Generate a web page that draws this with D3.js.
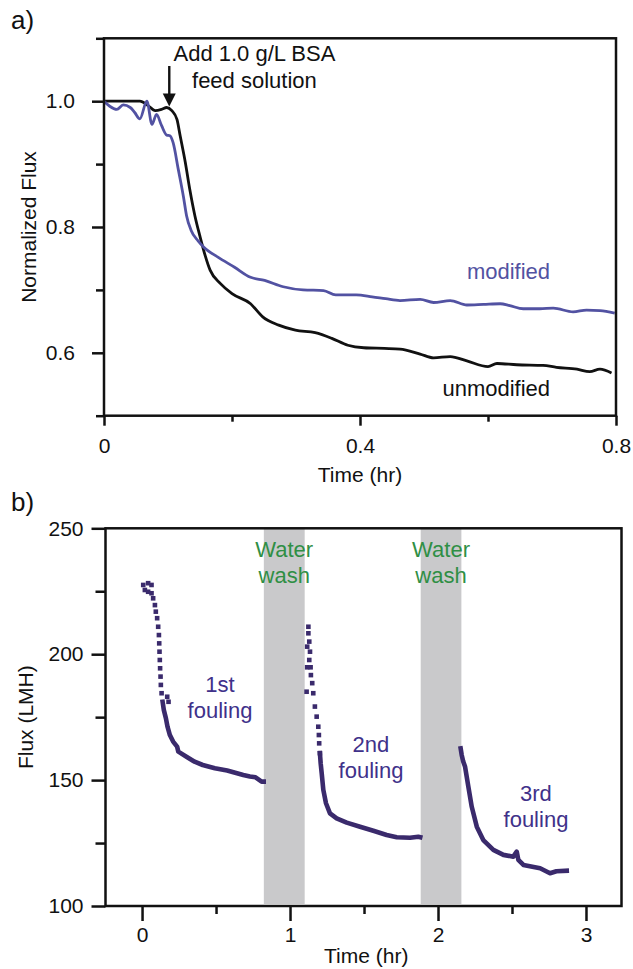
<!DOCTYPE html>
<html>
<head>
<meta charset="utf-8">
<script src="https://cdn.jsdelivr.net/npm/d3@7"></script>
<style>
  body { margin: 0; background: #fff; }
  svg text { font-family: "Liberation Sans", Arial, sans-serif; }
</style>
</head>
<body>
<script>
// panel a : normalized flux vs time
const unmodified = [[0,1.0],[0.03,1.0],[0.056,1.0],[0.069,0.993],[0.080,0.985],[0.090,0.987],[0.098,0.990],[0.106,0.985],[0.114,0.971],[0.119,0.945],[0.127,0.903],[0.134,0.860],[0.142,0.818],[0.150,0.785],[0.158,0.755],[0.166,0.731],[0.182,0.710],[0.200,0.694],[0.229,0.678],[0.248,0.657],[0.273,0.644],[0.299,0.636],[0.330,0.632],[0.356,0.623],[0.381,0.612],[0.406,0.608],[0.438,0.607],[0.4625,0.606],[0.494,0.598],[0.515,0.592],[0.541,0.594],[0.567,0.587],[0.600,0.578],[0.614,0.583],[0.645,0.581],[0.686,0.580],[0.707,0.577],[0.739,0.574],[0.759,0.570],[0.775,0.574],[0.793,0.568]];
const modified = [[0,1.0],[0.009,0.992],[0.020,0.987],[0.030,0.994],[0.041,0.990],[0.048,0.982],[0.056,0.972],[0.067,1.0],[0.075,0.963],[0.082,0.979],[0.090,0.961],[0.098,0.946],[0.103,0.945],[0.108,0.934],[0.116,0.892],[0.124,0.849],[0.129,0.818],[0.136,0.795],[0.147,0.778],[0.156,0.768],[0.178,0.752],[0.204,0.736],[0.229,0.720],[0.251,0.715],[0.280,0.705],[0.311,0.700],[0.343,0.699],[0.362,0.692],[0.394,0.692],[0.419,0.689],[0.44,0.686],[0.4625,0.683],[0.494,0.685],[0.515,0.680],[0.541,0.683],[0.567,0.676],[0.593,0.677],[0.619,0.678],[0.634,0.675],[0.655,0.670],[0.681,0.670],[0.702,0.671],[0.733,0.665],[0.754,0.668],[0.775,0.667],[0.798,0.663]];
const aXMajor = [0, 0.4, 0.8];
const aXMinor = [0.2, 0.6];
const aYMajor = [0.6, 0.8, 1.0];
const aYMinor = [0.5, 0.7, 0.9, 1.1];
const bsaAddTime = 0.102;

// panel b : flux over three fouling cycles
const foul1Dots = [[0.008,227.5],[0.019,225.5],[0.041,228.2],[0.041,224.8],[0.064,227.5],[0.064,224.2],[0.075,222.2],[0.087,219.5],[0.093,216.9],[0.102,214.3],[0.109,210.9],[0.114,207.6],[0.116,204.3],[0.118,201.0],[0.120,197.7],[0.122,194.4],[0.125,191.1],[0.127,187.8],[0.132,184.5],[0.170,183.1],[0.179,181.1]];
const foul1Trace = [[0.139,181.1],[0.147,177.9],[0.161,174.6],[0.172,171.2],[0.188,167.9],[0.210,165.3],[0.237,163.3],[0.245,161.3],[0.300,159.3],[0.355,157.3],[0.410,156.0],[0.492,154.7],[0.575,153.8],[0.684,152.0],[0.729,151.4],[0.767,151.1],[0.808,149.4],[0.822,149.4]];
const foul2Dots = [[1.124,210.9],[1.124,208.3],[1.130,205.0],[1.116,203.0],[1.135,201.0],[1.130,197.7],[1.116,194.8],[1.139,194.8],[1.141,191.7],[1.112,185.1],[1.150,188.5],[1.157,184.5],[1.168,179.2],[1.180,175.2],[1.191,171.2],[1.195,167.9],[1.197,164.6],[1.202,160.7]];
const foul2Trace = [[1.202,160.7],[1.207,156.7],[1.214,152.7],[1.225,146.1],[1.243,140.8],[1.270,136.8],[1.315,134.8],[1.383,133.1],[1.473,131.5],[1.563,129.9],[1.653,128.2],[1.721,127.3],[1.811,127.1],[1.867,127.5],[1.880,127.3]];
const foul3Trace = [[2.153,162.6],[2.160,160.0],[2.170,157.5],[2.183,155.3],[2.205,147.4],[2.228,139.4],[2.262,131.5],[2.306,126.2],[2.374,122.3],[2.442,120.3],[2.509,119.6],[2.532,121.6],[2.543,118.3],[2.577,116.3],[2.690,115.0],[2.757,113.0],[2.800,113.8],[2.870,114.0]];
const washBands = [[0.823, 1.099], [1.883, 2.158]];
const bXMajor = [0, 1, 2, 3];
const bXMinor = [0.5, 1.5, 2.5];
const bYMajor = [100, 150, 200, 250];
const bYMinor = [125, 175, 225];

const blueLine = "#5252a2";
const purple = "#3a2a6c";
const purpleText = "#40318a";
const green = "#2f8f45";

const svg = d3.select("body").append("svg")
    .attr("width", 633)
    .attr("height", 969);

function drawAxes(g, x, y, opt) {
    const left = x.range()[0], right = x.range()[1];
    const bottom = y.range()[0], top = y.range()[1];

    g.append("g")
        .attr("transform", `translate(0,${bottom})`)
        .call(d3.axisBottom(x).tickValues(opt.xMinor).tickSize(opt.xMinorLen).tickFormat(""));
    g.append("g")
        .attr("transform", `translate(0,${bottom})`)
        .call(d3.axisBottom(x).tickValues(opt.xMajor).tickSize(opt.xMajorLen).tickPadding(opt.xPad).tickFormat(opt.xFormat));
    g.append("g")
        .attr("transform", `translate(${left},0)`)
        .call(d3.axisLeft(y).tickValues(opt.yMinor).tickSize(opt.yMinorLen).tickFormat(""));
    g.append("g")
        .attr("transform", `translate(${left},0)`)
        .call(d3.axisLeft(y).tickValues(opt.yMajor).tickSize(opt.yMajorLen).tickPadding(opt.yPad).tickFormat(opt.yFormat));

    g.selectAll(".domain").remove();
    g.selectAll(".tick line").attr("stroke", "#111").attr("stroke-width", 2.5);
    g.selectAll(".tick text")
        .attr("font-family", "Liberation Sans, Arial, sans-serif")
        .attr("font-size", 21)
        .attr("fill", "#111");

    g.append("rect")
        .attr("x", left)
        .attr("y", top)
        .attr("width", right - left)
        .attr("height", bottom - top)
        .attr("fill", "none")
        .attr("stroke", "#111")
        .attr("stroke-width", 2.5);
}

// ---------- panel a ----------
const xA = d3.scaleLinear().domain([0, 0.8]).range([104, 616]);
const yA = d3.scaleLinear().domain([0.5, 1.1]).range([415.7, 38.3]);
const gA = svg.append("g");

const lineA = d3.line()
    .x(d => xA(d[0]))
    .y(d => yA(d[1]))
    .curve(d3.curveMonotoneX);

gA.append("path")
    .datum(unmodified)
    .attr("fill", "none")
    .attr("stroke", "#111")
    .attr("stroke-width", 2.8)
    .attr("d", lineA);

gA.append("path")
    .datum(modified)
    .attr("fill", "none")
    .attr("stroke", blueLine)
    .attr("stroke-width", 2.8)
    .attr("d", lineA);

drawAxes(gA, xA, yA, {
    xMajor: aXMajor, xMinor: aXMinor, xMajorLen: 10, xMinorLen: 6, xPad: 12,
    xFormat: d => d === 0 ? "0" : d3.format(".1f")(d),
    yMajor: aYMajor, yMinor: aYMinor, yMajorLen: 12, yMinorLen: 8, yPad: 17,
    yFormat: d3.format(".1f")
});

// arrow marking BSA addition
const ax = xA(bsaAddTime);
const tipY = yA(0.9916);
gA.append("line")
    .attr("x1", ax).attr("x2", ax)
    .attr("y1", yA(1.056)).attr("y2", tipY - 10)
    .attr("stroke", "#111")
    .attr("stroke-width", 2.4);
gA.append("path")
    .attr("d", `M${ax - 6.5},${tipY - 13} L${ax + 6.5},${tipY - 13} L${ax},${tipY} Z`)
    .attr("fill", "#111");

gA.append("text")
    .attr("x", xA(0.235)).attr("y", yA(1.0636))
    .attr("text-anchor", "middle")
    .attr("font-size", 22).attr("fill", "#111")
    .text("Add 1.0 g/L BSA");
gA.append("text")
    .attr("x", xA(0.235)).attr("y", yA(1.0207))
    .attr("text-anchor", "middle")
    .attr("font-size", 22).attr("fill", "#111")
    .text("feed solution");

gA.append("text")
    .attr("x", xA(0.697)).attr("y", yA(0.717))
    .attr("text-anchor", "end")
    .attr("font-size", 22).attr("fill", blueLine)
    .text("modified");
gA.append("text")
    .attr("x", xA(0.697)).attr("y", yA(0.5315))
    .attr("text-anchor", "end")
    .attr("font-size", 22).attr("fill", "#111")
    .text("unmodified");

gA.append("text")
    .attr("transform", `translate(36,${(yA.range()[0] + yA.range()[1]) / 2}) rotate(-90)`)
    .attr("text-anchor", "middle")
    .attr("font-size", 21).attr("fill", "#111")
    .text("Normalized Flux");
gA.append("text")
    .attr("x", (xA.range()[0] + xA.range()[1]) / 2).attr("y", 481.7)
    .attr("text-anchor", "middle")
    .attr("font-size", 21).attr("fill", "#111")
    .text("Time (hr)");
gA.append("text")
    .attr("x", 11).attr("y", 29)
    .attr("font-size", 26).attr("fill", "#111")
    .text("a)");

// ---------- panel b ----------
const xB = d3.scaleLinear().domain([-0.247, 3.24]).range([105.5, 621.5]);
const yB = d3.scaleLinear().domain([100, 250]).range([906, 528.3]);
const gB = svg.append("g");

gB.selectAll(".band")
    .data(washBands)
    .join("rect")
    .attr("class", "band")
    .attr("x", d => xB(d[0]))
    .attr("width", d => xB(d[1]) - xB(d[0]))
    .attr("y", yB(250))
    .attr("height", yB(100) - yB(250) - 2)
    .attr("fill", "#c9c9cb");

const lineB = d3.line()
    .x(d => xB(d[0]))
    .y(d => yB(d[1]));

[foul1Trace, foul2Trace, foul3Trace].forEach(trace => {
    gB.append("path")
        .datum(trace)
        .attr("fill", "none")
        .attr("stroke", purple)
        .attr("stroke-width", 4.6)
        .attr("stroke-linejoin", "round")
        .attr("stroke-linecap", "square")
        .attr("d", lineB);
});

[foul1Dots, foul2Dots].forEach(dots => {
    gB.append("g")
        .selectAll("rect")
        .data(dots)
        .join("rect")
        .attr("x", d => xB(d[0]) - 2.3)
        .attr("y", d => yB(d[1]) - 2.3)
        .attr("width", 4.6)
        .attr("height", 4.6)
        .attr("fill", purple);
});

drawAxes(gB, xB, yB, {
    xMajor: bXMajor, xMinor: bXMinor, xMajorLen: 15, xMinorLen: 8, xPad: 6,
    xFormat: d3.format("d"),
    yMajor: bYMajor, yMinor: bYMinor, yMajorLen: 14, yMinorLen: 10, yPad: 8,
    yFormat: d3.format("d")
});

washBands.forEach(b => {
    const cx = xB((b[0] + b[1]) / 2);
    gB.append("text")
        .attr("x", cx).attr("y", yB(238.7))
        .attr("text-anchor", "middle")
        .attr("font-size", 22).attr("fill", green)
        .text("Water");
    gB.append("text")
        .attr("x", cx).attr("y", yB(228.3))
        .attr("text-anchor", "middle")
        .attr("font-size", 22).attr("fill", green)
        .text("wash");
});

const foulLabels = [["1st", 0.527, 185.1], ["2nd", 1.547, 161.3], ["3rd", 2.662, 141.8]];
foulLabels.forEach(l => {
    gB.append("text")
        .attr("x", xB(l[1])).attr("y", yB(l[2]))
        .attr("text-anchor", "middle")
        .attr("font-size", 22).attr("fill", purpleText)
        .text(l[0]);
    gB.append("text")
        .attr("x", xB(l[1])).attr("y", yB(l[2]) + 26)
        .attr("text-anchor", "middle")
        .attr("font-size", 22).attr("fill", purpleText)
        .text("fouling");
});

gB.append("text")
    .attr("transform", `translate(33,${(yB.range()[0] + yB.range()[1]) / 2}) rotate(-90)`)
    .attr("text-anchor", "middle")
    .attr("font-size", 21).attr("fill", "#111")
    .text("Flux (LMH)");
gB.append("text")
    .attr("x", xB(1.515)).attr("y", 963)
    .attr("text-anchor", "middle")
    .attr("font-size", 21).attr("fill", "#111")
    .text("Time (hr)");
gB.append("text")
    .attr("x", 11).attr("y", 511)
    .attr("font-size", 26).attr("fill", "#111")
    .text("b)");
</script>
</body>
</html>
